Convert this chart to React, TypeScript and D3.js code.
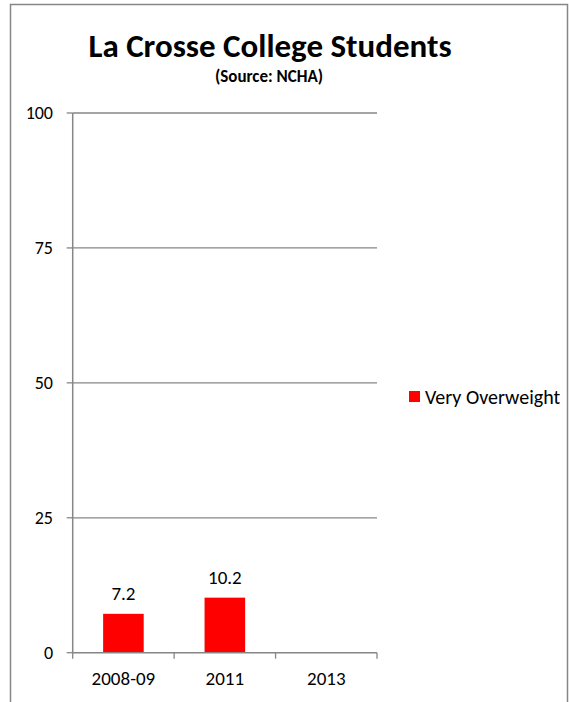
import React from "react";
import * as d3 from "d3";

const categories: string[] = ["2008-09", "2011", "2013"];
const seriesName = "Very Overweight";
const values: (number | null)[] = [7.2, 10.2, null];
const yTicks: number[] = [0, 25, 50, 75, 100];
const title = "La Crosse College Students";
const subtitle = "(Source: NCHA)";

const W = 569;
const H = 702;
const FONT = "Carlito, Calibri, Lato, sans-serif";
const GRID = "#868686";
const RED = "#FF0000";

export default function App() {
  const x = d3.scaleBand<string>().domain(categories).range([72.7, 377]).paddingInner(0.6).paddingOuter(0.3);
  const xEdge = d3.scaleBand<string>().domain(categories).range([72.7, 377]).padding(0);
  const y = d3.scaleLinear().domain([0, 100]).range([652.7, 113]);
  const fmt = d3.format(".1f");

  return (
    <svg width={W} height={H} style={{ position: "absolute", left: 0, top: 0, background: "#fff" }} fontFamily={FONT}>
      <rect x={0} y={0} width={W} height={H} fill="#fff" />
      <path d={`M10.5,${H + 5} V4.5 H567.5 V${H + 5}`} fill="none" stroke={GRID} strokeWidth={1.5} />
      <text x={270} y={57} textAnchor="middle" fontSize={33} fontWeight="bold" fill="#000">{title}</text>
      <text x={269} y={82} textAnchor="middle" fontSize={17} fontWeight="bold" fill="#000">{subtitle}</text>

      {yTicks.map((t) => (
        <g key={t}>
          {t !== 0 && <line x1={72.7} x2={377} y1={y(t)} y2={y(t)} stroke={GRID} strokeWidth={1.3} />}
          <line x1={66.7} x2={72.7} y1={y(t)} y2={y(t)} stroke={GRID} strokeWidth={1.3} />
          <text x={53} y={y(t)} dy="0.35em" textAnchor="end" fontSize={18} fill="#000">{t}</text>
        </g>
      ))}

      {categories.map((c, i) => {
        const v = values[i];
        if (v == null) return null;
        const bx = x(c) as number;
        return (
          <g key={c}>
            <rect x={bx} y={y(v)} width={x.bandwidth()} height={y(0) - y(v)} fill={RED} />
            <text x={bx + x.bandwidth() / 2} y={y(v) - 14} textAnchor="middle" fontSize={19} fill="#000">{fmt(v)}</text>
          </g>
        );
      })}

      <line x1={72.7} x2={72.7} y1={113} y2={652.7} stroke={GRID} strokeWidth={1.5} />
      <line x1={72.7} x2={377} y1={652.7} y2={652.7} stroke={GRID} strokeWidth={1.5} />
      {categories.map((c) => (
        <line key={c} x1={xEdge(c) as number} x2={xEdge(c) as number} y1={652.7} y2={658.7} stroke={GRID} strokeWidth={1.3} />
      ))}
      <line x1={377} x2={377} y1={652.7} y2={658.7} stroke={GRID} strokeWidth={1.3} />
      {categories.map((c) => (
        <text key={c} x={(xEdge(c) as number) + xEdge.bandwidth() / 2} y={685} textAnchor="middle" fontSize={19} fill="#000">{c}</text>
      ))}

      <rect x={409} y={391} width={11} height={11} fill={RED} />
      <text x={425} y={396.5} dy="0.35em" fontSize={20} fill="#000">{seriesName}</text>
    </svg>
  );
}
